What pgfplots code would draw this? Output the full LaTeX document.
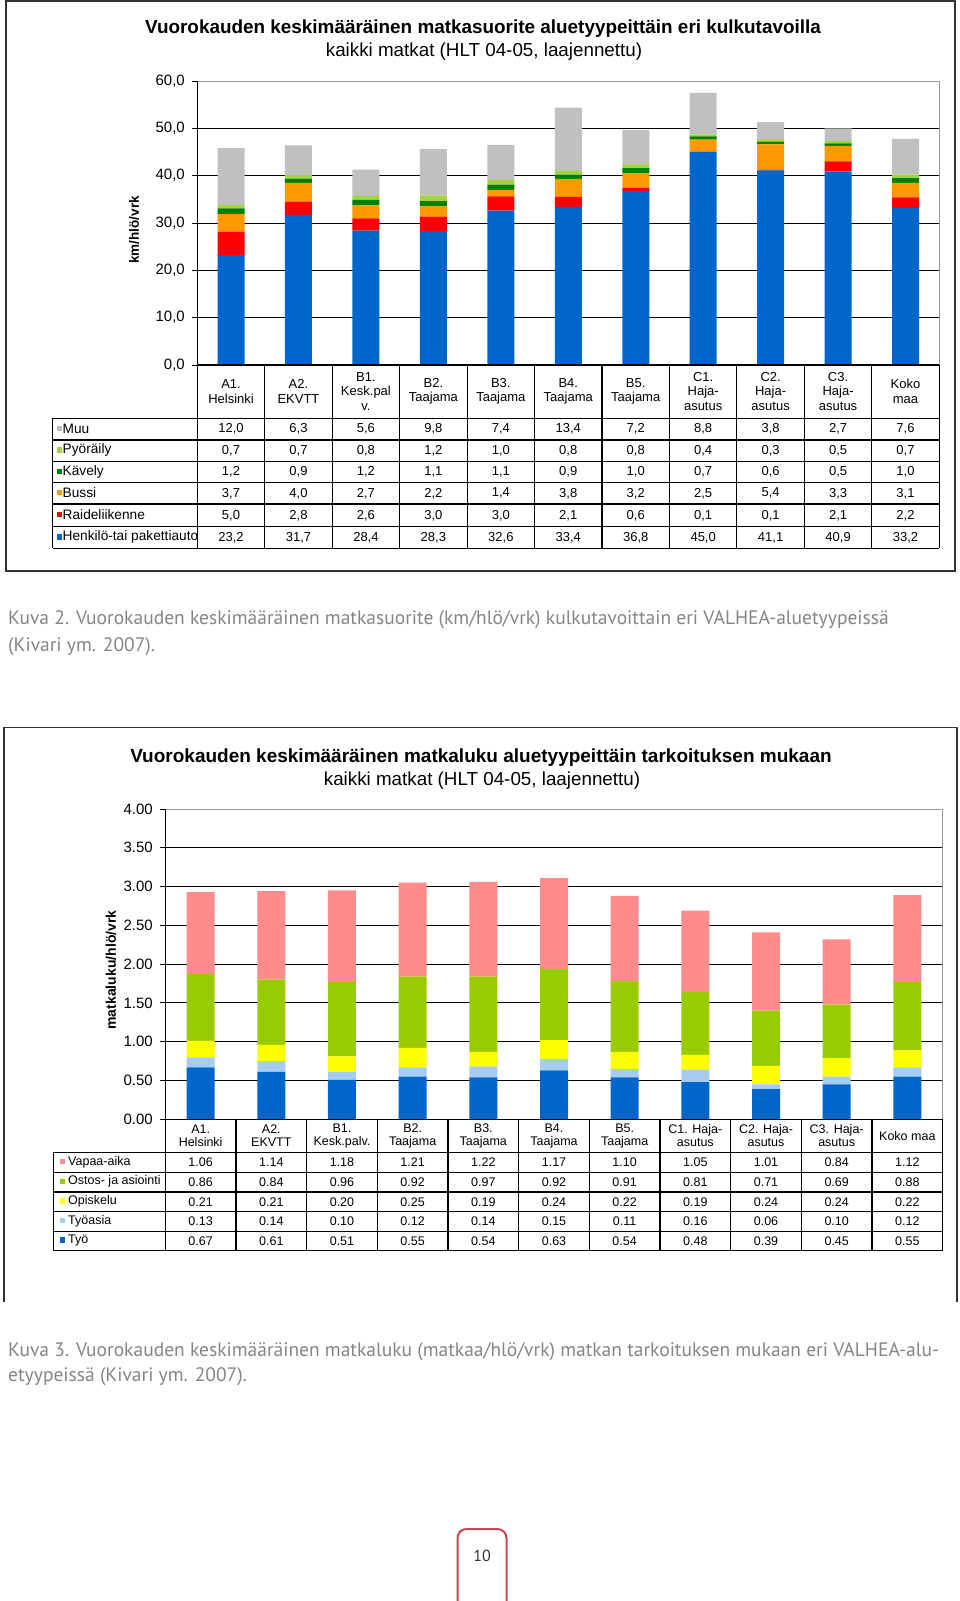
\documentclass[border=0pt]{standalone}
\usepackage{pgfplots}
\pgfplotsset{compat=1.18}
\usepackage{pgfplotstable}
\usepackage{fontspec}
\setmainfont{Liberation Sans}
\newfontfamily\capfont{PT Sans}
\newcommand\fs[2]{\fontsize{#1}{#2}\selectfont}

\definecolor{cBlue}{HTML}{0066CC}
\definecolor{cRed}{HTML}{FF0000}
\definecolor{cOrange}{HTML}{FF9900}
\definecolor{cDGreen}{HTML}{008000}
\definecolor{cLGreen}{HTML}{A4D43C}
\definecolor{cGray}{HTML}{C0C0C0}
\definecolor{cPink}{HTML}{FF8C8C}
\definecolor{cYGreen}{HTML}{99CC00}
\definecolor{cYellow}{HTML}{FFFF00}
\definecolor{cLBlue}{HTML}{A6CCF0}
\definecolor{capgray}{HTML}{858585}
\definecolor{pagered}{HTML}{D0434F}

% Kuva 2: km/hlö/vrk
\pgfplotstableread{
x auto raide bussi kavely pyora muu
0 23.2 5.0 3.7 1.2 0.7 12.0
1 31.7 2.8 4.0 0.9 0.7 6.3
2 28.4 2.6 2.7 1.2 0.8 5.6
3 28.3 3.0 2.2 1.1 1.2 9.8
4 32.6 3.0 1.4 1.1 1.0 7.4
5 33.4 2.1 3.8 0.9 0.8 13.4
6 36.8 0.6 3.2 1.0 0.8 7.2
7 45.0 0.1 2.5 0.7 0.4 8.8
8 41.1 0.1 5.4 0.6 0.3 3.8
9 40.9 2.1 3.3 0.5 0.5 2.7
10 33.2 2.2 3.1 1.0 0.7 7.6
}\suorite

% Kuva 3: matkaa/hlö/vrk
\pgfplotstableread{
x tyo tyoasia opiskelu ostos vapaa
0 0.67 0.13 0.21 0.86 1.06
1 0.61 0.14 0.21 0.84 1.14
2 0.51 0.10 0.20 0.96 1.18
3 0.55 0.12 0.25 0.92 1.21
4 0.54 0.14 0.19 0.97 1.22
5 0.63 0.15 0.24 0.92 1.17
6 0.54 0.11 0.22 0.91 1.10
7 0.48 0.16 0.19 0.81 1.05
8 0.39 0.06 0.24 0.71 1.01
9 0.45 0.10 0.24 0.69 0.84
10 0.55 0.12 0.22 0.88 1.12
}\matkaluku

\pgfplotsset{
  page bars/.style={
    scale only axis, anchor=south west,
    xmin=-0.5, xmax=10.5, ymin=0, xtick=\empty,
    ybar stacked, ymajorgrids,
    major grid style={black, line width=1pt},
    axis line style={draw=black!40, line width=1pt},
    ytick pos=left, tick align=outside, major tick length=5pt,
    ytick style={black, line width=1pt},
    /pgf/number format/assume math mode=true,
  },
}

\begin{document}
\begin{tikzpicture}

% ---------- chart 1 ----------
\begin{axis}[page bars,
  at={(197.3pt,-365pt)}, width=742pt, height=284pt,
  ymax=60, ytick={0,10,...,60}, bar width=27pt,
  yticklabel style={font=\fs{15}{16}, xshift=-4pt,
    /pgf/number format/.cd, fixed, fixed zerofill, precision=1, use comma},
]
\addplot[fill=cBlue, draw=none] table[x=x, y=auto]{\suorite};
\addplot[fill=cRed, draw=none] table[x=x, y=raide]{\suorite};
\addplot[fill=cOrange, draw=none] table[x=x, y=bussi]{\suorite};
\addplot[fill=cDGreen, draw=none] table[x=x, y=kavely]{\suorite};
\addplot[fill=cLGreen, draw=none] table[x=x, y=pyora]{\suorite};
\addplot[fill=cGray, draw=none] table[x=x, y=muu]{\suorite};
\end{axis}

% ---------- chart 2 ----------
\begin{axis}[page bars,
  at={(165.3pt,-1119.3pt)}, width=777.4pt, height=310.3pt,
  ymax=4, ytick={0,0.5,...,4}, bar width=28pt,
  yticklabel style={font=\fs{15}{16}, xshift=-4pt,
    /pgf/number format/.cd, fixed, fixed zerofill, precision=2},
]
\addplot[fill=cBlue, draw=none] table[x=x, y=tyo]{\matkaluku};
\addplot[fill=cLBlue, draw=none] table[x=x, y=tyoasia]{\matkaluku};
\addplot[fill=cYellow, draw=none] table[x=x, y=opiskelu]{\matkaluku};
\addplot[fill=cYGreen, draw=none] table[x=x, y=ostos]{\matkaluku};
\addplot[fill=cPink, draw=none] table[x=x, y=vapaa]{\matkaluku};
\end{axis}

\begin{scope}[x=1pt, y=-1pt]
\path[use as bounding box] (0,0) rectangle (960,1601);

% ===== Kuva 2 =====
\draw[black!80, line width=1.5pt] (6,1) rectangle (955,571);
\node[font=\fs{18.9}{21}\bfseries] at (483,29) {Vuorokauden keskimääräinen matkasuorite aluetyypeittäin eri kulkutavoilla};
\node[font=\fs{18.8}{21}] at (484,51.5) {kaikki matkat (HLT 04-05, laajennettu)};
\node[font=\fs{13.5}{15}\bfseries, rotate=90] at (134,230) {km/hlö/vrk};

\begin{scope}[black, line width=1.1pt]
\draw (197.3,81) -- (197.3,548.3);
\draw (197.3,365) -- (939.3,365);
\foreach \yy in {418.3,440,461.7,482.7,504,526.7,548.3}
  \draw (52.7,\yy) -- (939.3,\yy);
\draw (52.7,418.3) -- (52.7,548.3);
\foreach \k in {1,...,11}
  \draw ({197.3+67.45*\k},365) -- ({197.3+67.45*\k},548.3);
\end{scope}

\foreach \lab [count=\i from 0] in {A1.\\Helsinki, A2.\\EKVTT, B1.\\Kesk.pal\\v., B2.\\Taajama,
  B3.\\Taajama, B4.\\Taajama, B5.\\Taajama, C1.\\Haja-\\asutus, C2.\\Haja-\\asutus,
  C3.\\Haja-\\asutus, Koko\\maa}
  \node[font=\fs{13}{14.5}, align=center] at ({197.3+67.45*(\i+0.5)},391.5) {\lab};

\foreach \col/\lab/\clr/\yy in {muu/Muu/cGray/429.2, pyora/Pyöräily/cLGreen/450.8,
  kavely/Kävely/cDGreen/472.2, bussi/Bussi/cOrange/493.3,
  raide/Raideliikenne/cRed/515.3, auto/Henkilö-tai pakettiauto/cBlue/537.5} {
  \fill[\clr] (56.5,\yy-3.5) rectangle (62,\yy+2);
  \node[font=\fs{13.7}{15}, anchor=west, inner sep=0pt] at (62.5,\yy-0.5) {\lab};
  \foreach \r in {0,...,10} {
    \pgfplotstablegetelem{\r}{\col}\of\suorite
    \node[font=\fs{13}{15}] at ({197.3+67.45*(\r+0.5)},\yy) {\pgfmathprintnumber[fixed, fixed zerofill, precision=1, use comma, assume math mode=true]{\pgfplotsretval}};
  }
}

\node[font=\capfont\fs{19.5}{22}, text=capgray, anchor=west, inner sep=0pt] at (8,620)
  {Kuva 2. Vuorokauden keskimääräinen matkasuorite (km/hlö/vrk) kulkutavoittain eri VALHEA-aluetyypeissä};
\node[font=\capfont\fs{19.5}{22}, text=capgray, anchor=west, inner sep=0pt] at (8,646.7)
  {(Kivari ym. 2007).};

% ===== Kuva 3 =====
\draw[black!80, line width=1.5pt] (4,1302) -- (4,727.3) -- (957,727.3) -- (957,1302);
\node[font=\fs{19}{21}\bfseries] at (481,758) {Vuorokauden keskimääräinen matkaluku aluetyypeittäin tarkoituksen mukaan};
\node[font=\fs{18.8}{21}] at (482,780.5) {kaikki matkat (HLT 04-05, laajennettu)};
\node[font=\fs{14}{16}\bfseries, rotate=90] at (111,970) {matkaluku/hlö/vrk};

\begin{scope}[black, line width=1.1pt]
\draw (165.3,809) -- (165.3,1250.3);
\draw (165.3,1119.3) -- (942.7,1119.3);
\foreach \yy in {1152.3,1172.3,1192,1211.3,1231.3,1250.3}
  \draw (53.3,\yy) -- (942.7,\yy);
\draw (53.3,1152.3) -- (53.3,1250.3);
\foreach \k in {1,...,11}
  \draw ({165.3+70.67*\k},1119.3) -- ({165.3+70.67*\k},1250.3);
\end{scope}

\foreach \lab [count=\i from 0] in {A1.\\Helsinki, A2.\\EKVTT, B1.\\Kesk.palv., B2.\\Taajama,
  B3.\\Taajama, B4.\\Taajama, B5.\\Taajama, C1. Haja-\\asutus, C2. Haja-\\asutus,
  C3. Haja-\\asutus, Koko maa}
  \node[font=\fs{12.5}{13}, align=center] at ({165.3+70.67*(\i+0.5)},1136) {\lab};

\foreach \col/\lab/\clr/\yy in {vapaa/Vapaa-aika/cPink/1162.3, ostos/Ostos- ja asiointi/cYGreen/1182.2,
  opiskelu/Opiskelu/cYellow/1201.7, tyoasia/Työasia/cLBlue/1221.3, tyo/Työ/cBlue/1240.8} {
  \fill[\clr] (59.5,\yy-3.5) rectangle (65,\yy+2);
  \node[font=\fs{12.5}{15}, anchor=west, inner sep=0pt] at (68,\yy-0.5) {\lab};
  \foreach \r in {0,...,10} {
    \pgfplotstablegetelem{\r}{\col}\of\matkaluku
    \node[font=\fs{12.5}{15}] at ({165.3+70.67*(\r+0.5)},\yy) {\pgfmathprintnumber[fixed, fixed zerofill, precision=2, assume math mode=true]{\pgfplotsretval}};
  }
}

\node[font=\capfont\fs{19.5}{22}, text=capgray, anchor=west, inner sep=0pt] at (8,1351.5)
  {Kuva 3. Vuorokauden keskimääräinen matkaluku (matkaa/hlö/vrk) matkan tarkoituksen mukaan eri VALHEA-alu-};
\node[font=\capfont\fs{19.5}{22}, text=capgray, anchor=west, inner sep=0pt] at (8,1376.7)
  {etyypeissä (Kivari ym. 2007).};

% page number
\draw[pagered, line width=2pt, rounded corners=9pt] (457.5,1615) -- (457.5,1529) -- (506.5,1529) -- (506.5,1615);
\node[font=\capfont\fs{16}{18}, text=black!80] at (482,1556) {10};
\end{scope}
\end{tikzpicture}
\end{document}
